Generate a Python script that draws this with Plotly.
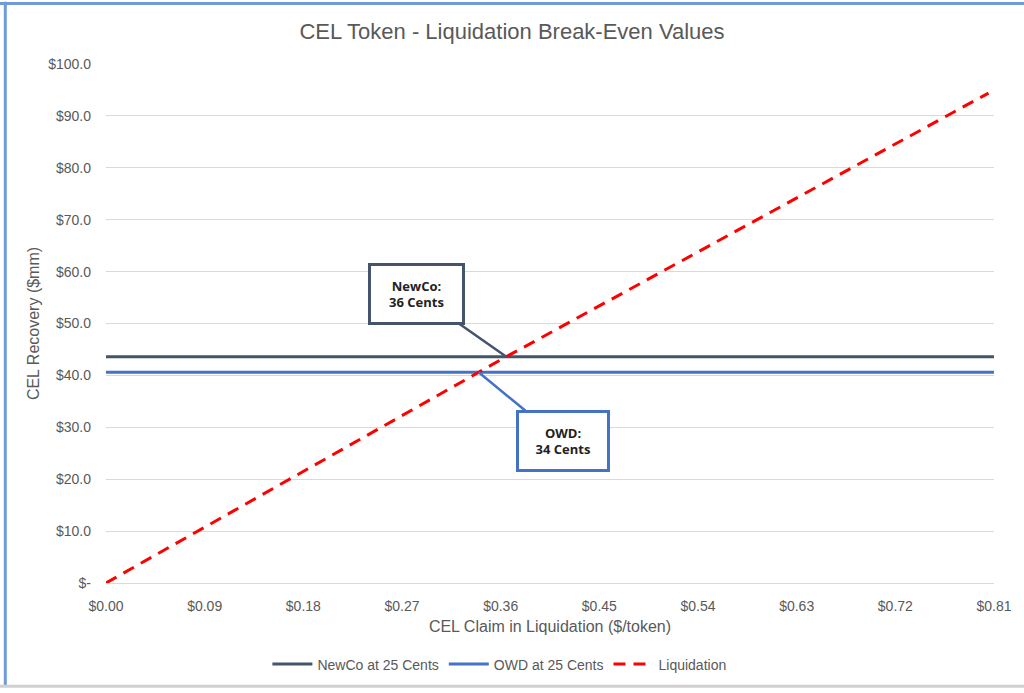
import plotly.graph_objects as go

# Data
x_ticks = [0.00, 0.09, 0.18, 0.27, 0.36, 0.45, 0.54, 0.63, 0.72, 0.81]
x_tick_labels = ["$0.00", "$0.09", "$0.18", "$0.27", "$0.36", "$0.45", "$0.54", "$0.63", "$0.72", "$0.81"]
y_ticks = [0, 10, 20, 30, 40, 50, 60, 70, 80, 90, 100]
y_tick_labels = ["$-", "$10.0", "$20.0", "$30.0", "$40.0", "$50.0", "$60.0", "$70.0", "$80.0", "$90.0", "$100.0"]

flat_x = [0.00, 0.81]
newco_y = [43.6, 43.6]
owd_y = [40.6, 40.6]
liquidation_x = [0.00, 0.36, 0.805]
liquidation_y = [0.0, 43.0, 94.4]

GRAY = "#595959"
FONT = "Liberation Sans, Arial, sans-serif"

fig = go.Figure()
fig.add_trace(go.Scatter(x=flat_x, y=newco_y, mode="lines", name="NewCo at 25 Cents",
                         line=dict(color="#44546A", width=3)))
fig.add_trace(go.Scatter(x=flat_x, y=owd_y, mode="lines", name="OWD at 25 Cents",
                         line=dict(color="#4472C4", width=3)))
fig.add_trace(go.Scatter(x=liquidation_x, y=liquidation_y, mode="lines", name="Liquidation",
                         line=dict(color="#FF0000", width=3, dash="12px,8px")))


def crossing(level):
    # x where the liquidation line reaches the given level
    for i in range(len(liquidation_x) - 1):
        y0, y1 = liquidation_y[i], liquidation_y[i + 1]
        if y0 <= level <= y1:
            x0, x1 = liquidation_x[i], liquidation_x[i + 1]
            return x0 + (level - y0) * (x1 - x0) / (y1 - y0)
    return liquidation_x[-1]


fig.add_annotation(x=crossing(newco_y[0]), y=newco_y[0], xref="x", yref="y",
                   text="<b>NewCo:</b><br><b>36 Cents</b>", showarrow=True,
                   arrowhead=0, arrowwidth=2.5, arrowcolor="#44546A",
                   ax=-90, ay=-63, bordercolor="#44546A", borderwidth=3,
                   borderpad=8, bgcolor="white", width=75, height=40,
                   font=dict(family="Open Sans, sans-serif", size=13, color="#222222"))
fig.add_annotation(x=crossing(owd_y[0]), y=owd_y[0], xref="x", yref="y",
                   text="<b>OWD:</b><br><b>34 Cents</b>", showarrow=True,
                   arrowhead=0, arrowwidth=2.5, arrowcolor="#4472C4",
                   ax=84, ay=69, bordercolor="#4472C4", borderwidth=3,
                   borderpad=8, bgcolor="white", width=72, height=40,
                   font=dict(family="Open Sans, sans-serif", size=13, color="#222222"))

# outer frame lines (top and left blue, bottom gray)
fig.add_shape(type="line", xref="paper", yref="paper", x0=-0.12, x1=1.1, y0=1.1166, y1=1.1166,
              line=dict(color="#6F9BD8", width=3))
fig.add_shape(type="line", xref="paper", yref="paper", x0=-0.1134, x1=-0.1134, y0=-0.2, y1=1.12,
              line=dict(color="#6F9BD8", width=3))
fig.add_shape(type="line", xref="paper", yref="paper", x0=-0.12, x1=1.1, y0=-0.199, y1=-0.199,
              line=dict(color="#D0D0D0", width=3))

fig.update_layout(
    width=1024, height=693,
    margin=dict(l=106, r=27, t=64, b=106),
    paper_bgcolor="white", plot_bgcolor="white",
    font=dict(family=FONT, color=GRAY, size=13),
    title=dict(text="CEL Token - Liquidation Break-Even Values", x=0.5, xanchor="center",
               y=0.955, yanchor="middle", font=dict(size=22, color=GRAY, family=FONT)),
    xaxis=dict(range=[0, 0.81], tickvals=x_ticks, ticktext=x_tick_labels, showgrid=False,
               showline=True, linecolor="#D9D9D9", linewidth=1, zeroline=False,
               tickfont=dict(size=14, color=GRAY), ticks="", ticklabelstandoff=10,
               title=dict(text="CEL Claim in Liquidation ($/token)", standoff=8,
                          font=dict(size=16, color=GRAY))),
    yaxis=dict(range=[0, 100], tickvals=y_ticks, ticktext=y_tick_labels, showgrid=True,
               gridcolor="#D9D9D9", gridwidth=1, zeroline=False, showline=False,
               tickfont=dict(size=14, color=GRAY), ticks="", ticklabelstandoff=14,
               title=dict(text="CEL Recovery ($mm)", standoff=4,
                          font=dict(size=16, color=GRAY))),
    legend=dict(orientation="h", x=0.443, xanchor="center", y=-0.157, yanchor="middle",
                font=dict(size=14, color=GRAY), itemwidth=40, traceorder="normal"),
    showlegend=True,
)

fig.write_html(
    "out.html",
    config={"displayModeBar": False},
    post_script=("document.documentElement.style.margin='0';"
                 "document.documentElement.style.overflow='hidden';"
                 "document.body.style.margin='0';"
                 "document.body.style.overflow='hidden';"),
)
